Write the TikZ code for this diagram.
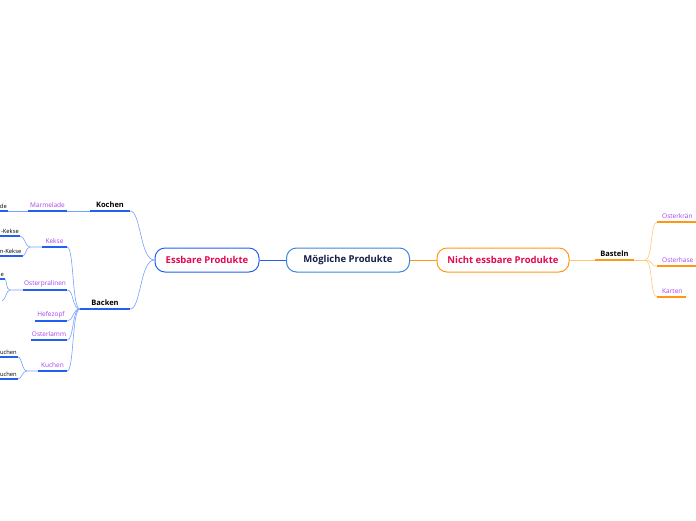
\documentclass[tikz,border=0pt]{standalone}
\usepackage{fontspec}
\setmainfont{Open Sans}
\definecolor{mpblue}{RGB}{60,135,215}
\definecolor{deepblue}{RGB}{35,95,240}
\definecolor{lightblue}{RGB}{120,160,255}
\definecolor{deeporange}{RGB}{255,150,20}
\definecolor{lightorange}{RGB}{255,200,120}
\definecolor{crimson}{RGB}{225,10,80}
\definecolor{navy}{RGB}{20,30,70}
\definecolor{lila}{RGB}{165,65,235}
\begin{document}
\begin{tikzpicture}[x=1pt, y=-1pt,
    mainbox/.style={draw, line width=1pt, rounded corners=10pt, minimum height=24pt,
        inner sep=0pt, font=\fontsize{9.5}{11}\selectfont\bfseries},
    topic/.style={anchor=south, inner xsep=0pt, inner ysep=3pt,
        font=\fontsize{7.5}{9}\selectfont\bfseries},
    sub/.style={anchor=south, inner xsep=0pt, inner ysep=3pt, text=lila,
        font=\fontsize{6.5}{8}\selectfont},
    cut/.style={anchor=south east, inner xsep=1pt, inner ysep=2.5pt,
        font=\fontsize{5.8}{7}\selectfont},
    bline/.style={lightblue, line width=0.6pt},
    oline/.style={lightorange, line width=0.6pt},
    bul/.style={deepblue, line width=1.2pt},
    oul/.style={deeporange, line width=1.2pt}]
    \useasboundingbox (0,0) rectangle (696,520);
    \clip (0,0) rectangle (696,520);
    \coordinate (rand) at (0,0);
    \coordinate (edge) at (696,0);

    % 1. Hauptknoten
    \node[mainbox, mpblue, text=navy, minimum width=123pt] (mp) at (348,260) {Mögliche Produkte};
    \node[mainbox, deepblue, text=crimson, minimum width=104pt] (essbare) at (207,260) {Essbare Produkte};
    \node[mainbox, deeporange, text=crimson, minimum width=132pt] (nicht) at (503,260) {Nicht essbare Produkte};
    \draw[deepblue, line width=0.8pt] (mp.west) -- (essbare.east);
    \draw[deeporange, line width=0.8pt] (mp.east) -- (nicht.west);

    % 2. Kochen und Backen
    \node[topic, minimum width=40pt] (kochen) at (110,211) {Kochen};
    \node[topic, minimum width=50pt] (backen) at (105,309) {Backen};
    \draw[bul] (kochen.south west) -- (kochen.south east);
    \draw[bul] (backen.south west) -- (backen.south east);
    \draw[bline] (kochen.south east) .. controls (141,211) and (140,260) .. (essbare.west);
    \draw[bline] (backen.south east) .. controls (141,309) and (140,260) .. (essbare.west);

    % 3. Marmelade
    \node[sub, minimum width=39pt] (marmelade) at (47.5,211) {Marmelade};
    \draw[bul] (marmelade.south west) -- (marmelade.south east);
    \draw[bline] (kochen.south west) -- (marmelade.south east);
    \node[cut] (marm1) at (8,211) {de};
    \draw[bul] (marm1.south west -| rand) -- (marm1.south east);
    \draw[bline] (marm1.south east) -- (marmelade.south west);

    % 4. Backen: Unterpunkte
    \node[sub, minimum width=25pt] (kekse) at (54.5,247) {Kekse};
    \node[sub, minimum width=44pt] (pralinen) at (45,290) {Osterpralinen};
    \node[sub, minimum width=32pt] (hefezopf) at (51,321) {Hefezopf};
    \node[sub, minimum width=36pt] (lamm) at (49,340) {Osterlamm};
    \node[sub, minimum width=29pt] (kuchen) at (52.5,371) {Kuchen};
    \coordinate (c74) at (74,0);
    \foreach \n in {kekse, pralinen, hefezopf, lamm, kuchen} {
        \draw[bul] (\n.south west) -- (\n.south east);
        \draw[bline] (\n.south east) .. controls (c74 |- \n.south east) and (72,309) .. (backen.south west);
    }

    % 5. abgeschnittene Blätter am linken Rand
    \node[cut] (kekse1) at (20,236) {-Kekse};
    \node[cut] (kekse2) at (22.5,256) {n-Kekse};
    \node[cut] (pral1) at (5,279) {e};
    \node[cut] (kuchen1) at (18,357) {uchen};
    \node[cut] (kuchen2) at (18,379) {uchen};
    \foreach \n in {kekse1, kekse2, pral1, kuchen1, kuchen2}
        \draw[bul] (\n.south west -| rand) -- (\n.south east);
    \coordinate (kj) at (30,247);
    \coordinate (pj) at (10,290);
    \coordinate (pral2) at (2,301);
    \coordinate (uj) at (27,371);
    \draw[bline] (kekse1.south east) .. controls (25,236) and (25,247) .. (kj) -- (kekse.south west);
    \draw[bline] (kekse2.south east) .. controls (26,256) and (26,247) .. (kj);
    \draw[bline] (pral1.south east) .. controls (7,280) and (6,290) .. (pj) -- (pralinen.south west);
    \draw[bline] (pral2) .. controls (6,300) and (6,290) .. (pj);
    \draw[bline] (kuchen1.south east) .. controls (22,357) and (22,371) .. (uj) -- (kuchen.south west);
    \draw[bline] (kuchen2.south east) .. controls (22,379) and (22,371) .. (uj);

    % 6. Basteln
    \node[topic, minimum width=39pt] (basteln) at (614.5,260) {Basteln};
    \draw[oul] (basteln.south west) -- (basteln.south east);
    \draw[oline] (nicht.east) -- (basteln.south west);
    \coordinate (bj) at (645,260);
    \coordinate (c650) at (650,0);
    \draw[oline] (basteln.south east) -- (bj);
    \node[sub, anchor=south west, inner xsep=5pt] (kraenze) at (657,222) {Osterkrän};
    \node[sub, anchor=south west, inner xsep=5pt] (hase) at (657,266) {Osterhase};
    \node[sub, anchor=south west, inner xsep=5pt] (karten) at (657,297) {Karten};
    \draw[oul] (kraenze.south west) -- (kraenze.south west -| edge);
    \draw[oul] (hase.south west) -- (hase.south west -| edge);
    \draw[oul] (karten.south west) -- ++(29,0);
    \foreach \n in {kraenze, hase, karten}
        \draw[oline] (bj) .. controls (653,260) and (c650 |- \n.south west) .. (\n.south west);
\end{tikzpicture}
\end{document}
